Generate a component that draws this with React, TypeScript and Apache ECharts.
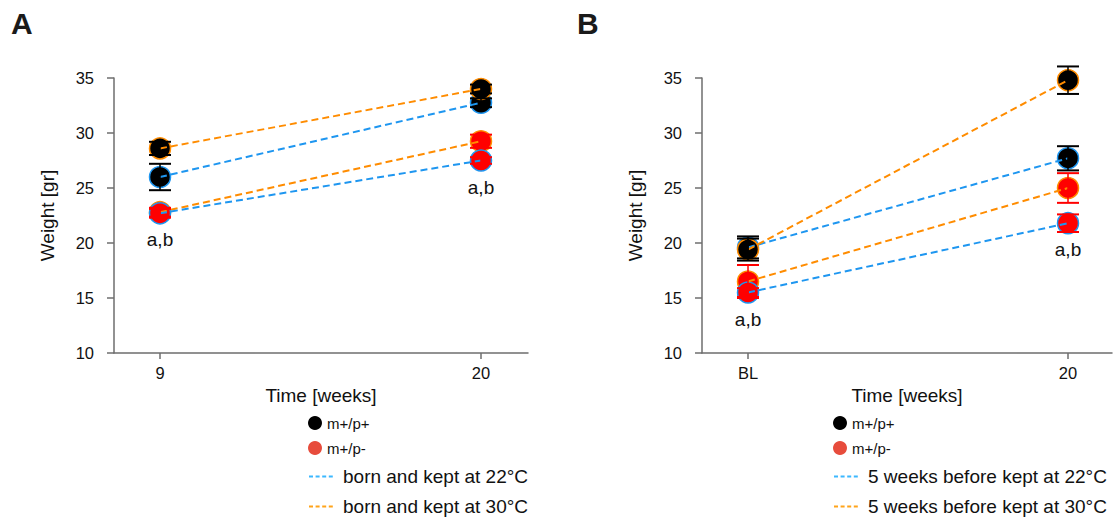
import React, { useEffect, useRef } from "react";
import * as echarts from "echarts";

// ---------- data ----------
const xLabelsA = ["9", "20"];
const xLabelsB = ["BL", "20"];
const yTicks = [10, 15, 20, 25, 30, 35];
const genotypes = ["m+/p+", "m+/p-"];
const conditionsA = ["born and kept at 22°C", "born and kept at 30°C"];
const conditionsB = ["5 weeks before kept at 22°C", "5 weeks before kept at 30°C"];
const annotation = "a,b";

// Panel A means (week 9, week 20) and SEM
const aWt22 = [26.0, 32.75];
const aWt22Err = [1.2, 0.4];
const aWt30 = [28.6, 34.0];
const aWt30Err = [0.6, 0.4];
const aHet22 = [22.7, 27.5];
const aHet22Err = [0.4, 0.3];
const aHet30 = [22.8, 29.25];
const aHet30Err = [0.4, 0.6];

// Panel B means (BL, week 20) and SEM
const bWt22 = [19.6, 27.7];
const bWt22Err = [1.0, 1.1];
const bWt30 = [19.4, 34.8];
const bWt30Err = [1.0, 1.25];
const bHet22 = [15.5, 21.8];
const bHet22Err = [0.4, 0.8];
const bHet30 = [16.5, 25.0];
const bHet30Err = [1.5, 1.35];

// ---------- styles ----------
const FONT = "'Liberation Sans', Arial, Helvetica, sans-serif";
const BLUE = "#1E96F0";
const ORANGE = "#FF8C00";
const LEG_BLUE = "#3CB8FF";
const LEG_ORANGE = "#FFA41A";
const BLACK = "#000000";
const RED = "#FF0000";
const LEG_RED = "#E74C3C";
const AXIS = "#6e6e6e";
const TXT = "#111111";

type Group = { mean: number[]; err: number[]; fill: string; line: string; key: string };

const panels = [
  {
    labels: xLabelsA,
    conds: conditionsA,
    groups: [
      { mean: aWt22, err: aWt22Err, fill: BLACK, line: BLUE, key: "A-wt22" },
      { mean: aWt30, err: aWt30Err, fill: BLACK, line: ORANGE, key: "A-wt30" },
      { mean: aHet30, err: aHet30Err, fill: RED, line: ORANGE, key: "A-het30" },
      { mean: aHet22, err: aHet22Err, fill: RED, line: BLUE, key: "A-het22" },
    ] as Group[],
    annot: aHet22,
    grid: { left: 114, top: 78, width: 414, height: 275 },
    xMin: -0.1433,
    xMax: 1.1464,
    legendLeft: 308,
  },
  {
    labels: xLabelsB,
    conds: conditionsB,
    groups: [
      { mean: bWt22, err: bWt22Err, fill: BLACK, line: BLUE, key: "B-wt22" },
      { mean: bWt30, err: bWt30Err, fill: BLACK, line: ORANGE, key: "B-wt30" },
      { mean: bHet30, err: bHet30Err, fill: RED, line: ORANGE, key: "B-het30" },
      { mean: bHet22, err: bHet22Err, fill: RED, line: BLUE, key: "B-het22" },
    ] as Group[],
    annot: bHet22,
    grid: { left: 702, top: 78, width: 410, height: 275 },
    xMin: -0.1438,
    xMax: 1.1375,
    legendLeft: 833,
  },
];

function buildOption() {
  const series: any[] = [];
  const legends: any[] = [];

  panels.forEach((p, pi) => {
    // markers
    p.groups.forEach((g) => {
      series.push({
        type: "scatter",
        name: g.key + "-pt",
        xAxisIndex: pi,
        yAxisIndex: pi,
        symbol: "circle",
        symbolSize: 21,
        z: 2,
        itemStyle: { color: g.fill, borderColor: g.line, borderWidth: 1.5, opacity: 1 },
        data: g.mean.map((v, i) => [i, v]),
      });
    });
    // dashed lines
    p.groups.forEach((g) => {
      series.push({
        type: "line",
        name: g.key + "-ln",
        xAxisIndex: pi,
        yAxisIndex: pi,
        symbol: "none",
        z: 3,
        lineStyle: { color: g.line, width: 2, type: [7, 4] },
        data: g.mean.map((v, i) => [i, v]),
      });
    });
    // error bars
    p.groups.forEach((g) => {
      const col = g.fill;
      series.push({
        type: "custom",
        name: g.key + "-err",
        xAxisIndex: pi,
        yAxisIndex: pi,
        z: 4,
        encode: { x: 0, y: [1, 2] },
        data: g.mean.map((v, i) => [i, v - g.err[i], v + g.err[i]]),
        renderItem: (params: any, api: any) => {
          const x = api.value(0);
          const top = api.coord([x, api.value(2)]);
          const bot = api.coord([x, api.value(1)]);
          const hw = 11;
          return {
            type: "group",
            children: [
              { type: "line", shape: { x1: top[0], y1: top[1], x2: bot[0], y2: bot[1] }, style: { stroke: col, lineWidth: 1.5 } },
              { type: "line", shape: { x1: top[0] - hw, y1: top[1], x2: top[0] + hw, y2: top[1] }, style: { stroke: col, lineWidth: 2 } },
              { type: "line", shape: { x1: bot[0] - hw, y1: bot[1], x2: bot[0] + hw, y2: bot[1] }, style: { stroke: col, lineWidth: 2 } },
            ],
          };
        },
      });
    });
    // significance annotations
    series.push({
      type: "scatter",
      name: "annot-" + pi,
      xAxisIndex: pi,
      yAxisIndex: pi,
      symbolSize: 0,
      z: 5,
      silent: true,
      itemStyle: { opacity: 1, color: TXT },
      label: {
        show: true,
        position: "bottom",
        distance: 17,
        formatter: () => annotation,
        fontSize: 19,
        fontFamily: FONT,
        color: TXT,
        opacity: 1,
      },
      data: p.annot.map((v, i) => [i, v]),
    });
    // legend dummies for conditions
    p.conds.forEach((c, ci) => {
      series.push({
        type: "line",
        name: c,
        xAxisIndex: pi,
        yAxisIndex: pi,
        symbol: "none",
        color: ci === 0 ? LEG_BLUE : LEG_ORANGE,
        lineStyle: { color: ci === 0 ? LEG_BLUE : LEG_ORANGE, width: 1.5, type: [4, 2.6] },
        data: [],
      });
    });

    // legends
    const tops = [415.5, 440.5, 467, 497];
    genotypes.forEach((gname, gi) => {
      legends.push({
        data: [gname],
        left: p.legendLeft,
        top: tops[gi],
        orient: "vertical",
        padding: 0,
        icon: "circle",
        itemWidth: 14,
        itemHeight: 14,
        selectedMode: false,
        itemStyle: { opacity: 1 },
        textStyle: { fontSize: 15, fontFamily: FONT, color: TXT },
      });
    });
    p.conds.forEach((c, ci) => {
      legends.push({
        data: [c],
        left: p.legendLeft,
        top: tops[2 + ci],
        orient: "vertical",
        padding: 0,
        itemWidth: 25,
        itemHeight: 10,
        selectedMode: false,
        itemStyle: { opacity: 0, color: "transparent", borderColor: "transparent", borderWidth: 0 },
        textStyle: { fontSize: 19, fontFamily: FONT, color: TXT, padding: [0, 0, 0, 4] },
      });
    });
  });

  // legend dummies for genotypes
  genotypes.forEach((gname, gi) => {
    series.push({
      type: "scatter",
      name: gname,
      xAxisIndex: 0,
      yAxisIndex: 0,
      symbol: "circle",
      color: gi === 0 ? BLACK : LEG_RED,
      itemStyle: { color: gi === 0 ? BLACK : LEG_RED, opacity: 1 },
      data: [],
    });
  });

  const xAxes = panels.map((p, pi) => ({
    type: "value",
    gridIndex: pi,
    min: p.xMin,
    max: p.xMax,
    splitLine: { show: false },
    axisLine: { show: true, onZero: false, lineStyle: { color: AXIS, width: 1.5 } },
    axisTick: { show: true, customValues: [0, 1], length: 6, lineStyle: { color: AXIS, width: 1.5 } },
    axisLabel: {
      customValues: [0, 1],
      formatter: (v: number) => p.labels[Math.round(v)],
      fontSize: 16.5,
      fontFamily: FONT,
      color: TXT,
      margin: 11,
    },
    name: "Time [weeks]",
    nameLocation: "middle",
    nameGap: 27,
    nameTextStyle: { fontSize: 19, fontFamily: FONT, color: TXT },
  }));

  const yAxes = panels.map((p, pi) => ({
    type: "value",
    gridIndex: pi,
    min: yTicks[0],
    max: yTicks[yTicks.length - 1],
    interval: 5,
    splitLine: { show: false },
    axisLine: { show: true, onZero: false, lineStyle: { color: AXIS, width: 1.5 } },
    axisTick: { show: true, length: 7, lineStyle: { color: AXIS, width: 1.5 } },
    axisLabel: { fontSize: 16.5, fontFamily: FONT, color: TXT, margin: 20 },
    name: "Weight [gr]",
    nameLocation: "middle",
    nameGap: 57,
    nameTextStyle: { fontSize: 19, fontFamily: FONT, color: TXT },
  }));

  return {
    animation: false,
    backgroundColor: "#ffffff",
    title: [
      { text: "A", left: 11, top: 8, padding: 0, textStyle: { fontSize: 30, fontWeight: "bold", fontFamily: FONT, color: "#1a1a1a" } },
      { text: "B", left: 577, top: 8, padding: 0, textStyle: { fontSize: 30, fontWeight: "bold", fontFamily: FONT, color: "#1a1a1a" } },
    ],
    grid: panels.map((p) => ({ ...p.grid, containLabel: false })),
    xAxis: xAxes,
    yAxis: yAxes,
    legend: legends,
    series,
  };
}

export default function App() {
  const ref = useRef<HTMLDivElement>(null);
  useEffect(() => {
    if (!ref.current) return;
    const chart = echarts.init(ref.current, undefined, { renderer: "svg" });
    chart.setOption(buildOption() as any);
    return () => chart.dispose();
  }, []);
  return (
    <div
      ref={ref}
      style={{ position: "absolute", left: 0, top: 0, width: 1113, height: 518, background: "#fff" }}
    />
  );
}
